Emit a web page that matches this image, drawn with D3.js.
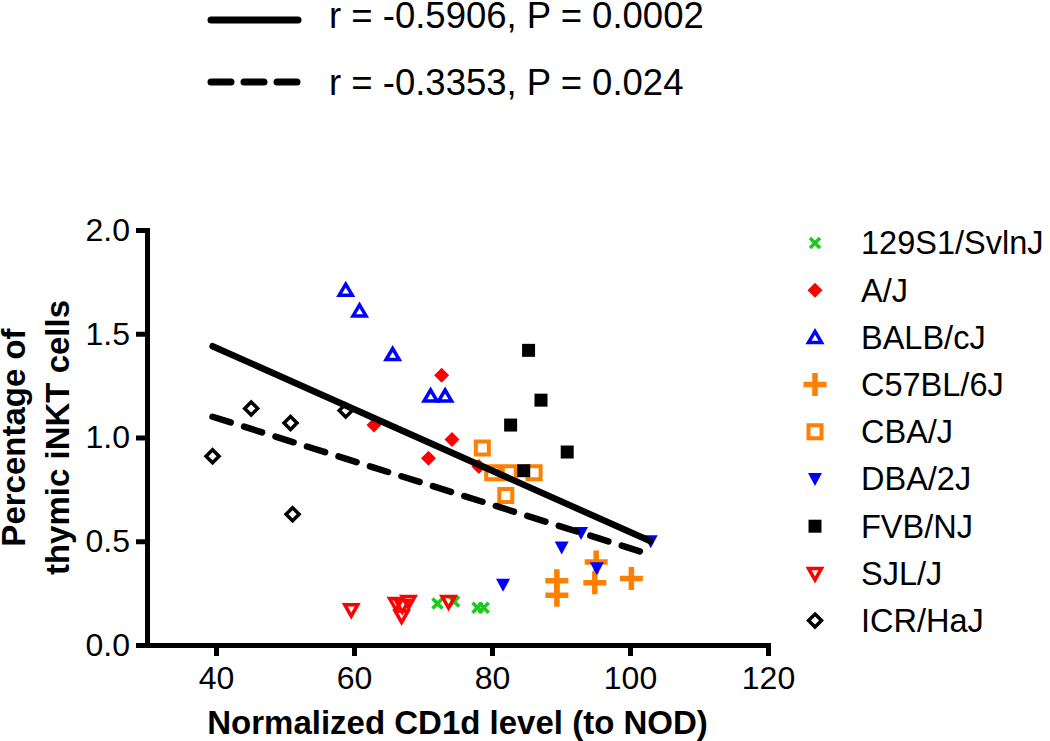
<!DOCTYPE html>
<html>
<head>
<meta charset="utf-8">
<script src="https://cdn.jsdelivr.net/npm/d3@7"></script>
<style>
  body { margin: 0; background: #fff; overflow: hidden; }
  svg { display: block; }
  svg text { font-family: "Liberation Sans", Arial, sans-serif; fill: #000; }
</style>
</head>
<body>
<svg id="chart"></svg>
<script>
const width = 1050;
const height = 741;
const margin = { left: 147, top: 230, right: 282, bottom: 96 };

const innerWidth  = width  - margin.left - margin.right;
const innerHeight = height - margin.top  - margin.bottom;

// strains, in legend order
const strains = ["129S1/SvlnJ", "A/J", "BALB/cJ", "C57BL/6J", "CBA/J", "DBA/2J", "FVB/NJ", "SJL/J", "ICR/HaJ"];

// [CD1d level, % thymic iNKT] per strain
const pts129  = [[72.1, 0.20], [74.5, 0.21], [77.9, 0.18], [78.8, 0.18]];
const ptsAJ   = [[62.9, 1.06], [70.8, 0.90], [72.7, 1.30], [74.2, 0.99], [78.1, 0.86]];
const ptsBALB = [[58.8, 1.71], [60.8, 1.61], [65.6, 1.40], [71.1, 1.20], [73.2, 1.20]];
const ptsC57  = [[89.4, 0.31], [89.4, 0.24], [94.9, 0.30], [95.1, 0.40], [100.2, 0.32]];
const ptsCBA  = [[78.6, 0.95], [80.1, 0.83], [82.5, 0.83], [86.1, 0.83], [82.0, 0.72]];
const ptsDBA  = [[81.6, 0.29], [90.1, 0.47], [92.9, 0.54], [95.2, 0.37], [103.0, 0.50]];
const ptsFVB  = [[85.3, 1.42], [87.1, 1.18], [82.7, 1.06], [90.9, 0.93], [84.6, 0.84]];
const ptsSJL  = [[59.6, 0.17], [66.1, 0.20], [67.0, 0.19], [67.9, 0.21], [66.9, 0.14], [73.7, 0.21]];
const ptsICR  = [[39.5, 0.91], [45.1, 1.14], [50.8, 1.07], [58.8, 1.13], [51.1, 0.63]];

// regression lines (end points)
const fitSolid  = [[39.5, 1.44], [103.0, 0.50]];
const fitDashed = [[39.5, 1.10], [103.0, 0.435]];
const fitLabels = ["r = -0.5906, P = 0.0002", "r = -0.3353, P = 0.024"];

const xTicks = [40, 60, 80, 100, 120];
const yTicks = [0.0, 0.5, 1.0, 1.5, 2.0];

const series = [pts129, ptsAJ, ptsBALB, ptsC57, ptsCBA, ptsDBA, ptsFVB, ptsSJL, ptsICR];

const red = "#ff0000", blue = "#0000ff", orange = "#ff8000", green = "#1ec81e";

// marker shapes (path, fill, stroke)
const markers = [
  { d: "M-5,-5L5,5M-5,5L5,-5", fill: "none", stroke: green, sw: 3.5 },
  { d: "M0,-7.5L7.5,0L0,7.5L-7.5,0Z", fill: red, stroke: "none", sw: 0 },
  { d: "M0,-6L6.5,5L-6.5,5Z", fill: "none", stroke: blue, sw: 3.5 },
  { d: "M-11.5,0L11.5,0M0,-11.5L0,11.5", fill: "none", stroke: orange, sw: 5.5 },
  { d: "M-6.5,-6.5h13v13h-13Z", fill: "none", stroke: orange, sw: 4 },
  { d: "M-7,-6L7,-6L0,7Z", fill: blue, stroke: "none", sw: 0 },
  { d: "M-6.5,-6.5h13v13h-13Z", fill: "#000", stroke: "none", sw: 0 },
  { d: "M-6.5,-5L6.5,-5L0,6.5Z", fill: "none", stroke: red, sw: 3.5 },
  { d: "M0,-6.5L6.5,0L0,6.5L-6.5,0Z", fill: "none", stroke: "#000", sw: 3.5 }
];

const svg = d3.select("#chart")
  .attr("width", width)
  .attr("height", height)
  .attr("viewBox", `0 0 ${width} ${height}`);

const g = svg.append("g")
  .attr("transform", `translate(${margin.left},${margin.top})`);

const x = d3.scaleLinear().domain([30, 120]).range([0, innerWidth]);
const y = d3.scaleLinear().domain([0, 2]).range([innerHeight, 0]);

// axes
const xAxis = g.append("g")
  .attr("transform", `translate(0,${innerHeight})`)
  .call(d3.axisBottom(x).tickValues(xTicks).tickSize(11).tickSizeOuter(0).tickPadding(10));

const yAxis = g.append("g")
  .call(d3.axisLeft(y).tickValues(yTicks).tickFormat(d3.format(".1f")).tickSize(11).tickSizeOuter(0).tickPadding(6));

[xAxis, yAxis].forEach(a => {
  a.select(".domain").attr("stroke", "#000").attr("stroke-width", 5).attr("stroke-linecap", "square");
  a.selectAll(".tick line").attr("stroke", "#000").attr("stroke-width", 5);
  a.selectAll(".tick text").attr("font-size", 32).attr("font-family", null).attr("fill", "#000");
});

// axis titles
svg.append("text")
  .attr("x", margin.left + innerWidth / 2)
  .attr("y", 734)
  .attr("text-anchor", "middle")
  .attr("font-size", 33)
  .attr("font-weight", "bold")
  .text("Normalized CD1d level (to NOD)");

const yLab = svg.append("text")
  .attr("transform", `translate(0,${margin.top + innerHeight / 2}) rotate(-90)`)
  .attr("text-anchor", "middle")
  .attr("font-size", 33)
  .attr("font-weight", "bold");
yLab.append("tspan").attr("x", 0).attr("y", 25).text("Percentage of");
yLab.append("tspan").attr("x", 0).attr("y", 69).text("thymic iNKT cells");

// points
series.forEach((pts, i) => {
  const m = markers[i];
  g.append("g").selectAll("path")
    .data(pts)
    .join("path")
    .attr("transform", d => `translate(${x(d[0])},${y(d[1])})`)
    .attr("d", m.d)
    .attr("fill", m.fill)
    .attr("stroke", m.stroke)
    .attr("stroke-width", m.sw)
    .attr("stroke-linejoin", "miter");
});

// regression lines
const line = d3.line().x(d => x(d[0])).y(d => y(d[1]));

g.append("path")
  .attr("d", line(fitSolid))
  .attr("fill", "none")
  .attr("stroke", "#000")
  .attr("stroke-width", 6.5)
  .attr("stroke-linecap", "round");

g.append("path")
  .attr("d", line(fitDashed))
  .attr("fill", "none")
  .attr("stroke", "#000")
  .attr("stroke-width", 6.5)
  .attr("stroke-linecap", "round")
  .attr("stroke-dasharray", "19 14");

// line legend at the top
const lineKey = svg.append("g");
fitLabels.forEach((t, i) => {
  const ly = i === 0 ? 20 : 82;
  lineKey.append("line")
    .attr("x1", 211).attr("x2", 298)
    .attr("y1", ly).attr("y2", ly)
    .attr("stroke", "#000")
    .attr("stroke-width", 7)
    .attr("stroke-linecap", "round")
    .attr("stroke-dasharray", i === 0 ? null : "20 13");
  lineKey.append("text")
    .attr("x", 329)
    .attr("y", i === 0 ? 28 : 95)
    .attr("font-size", 36.5)
    .text(t);
});

// strain legend
const legend = svg.append("g");
strains.forEach((s, i) => {
  const ly = 243 + i * 47.2;
  const m = markers[i];
  legend.append("path")
    .attr("transform", `translate(815,${ly})`)
    .attr("d", m.d)
    .attr("fill", m.fill)
    .attr("stroke", m.stroke)
    .attr("stroke-width", m.sw);
  legend.append("text")
    .attr("x", 861)
    .attr("y", ly)
    .attr("dy", "0.35em")
    .attr("font-size", 32.5)
    .text(s);
});
</script>
</body>
</html>
